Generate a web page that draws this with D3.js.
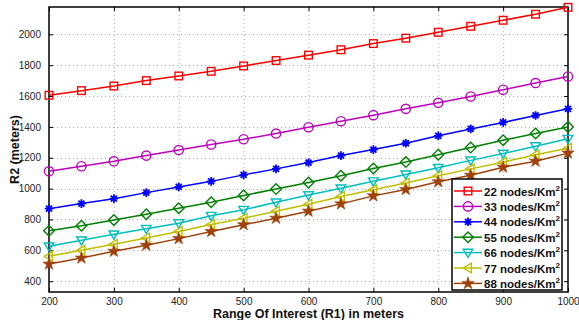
<!DOCTYPE html>
<html>
<head>
<meta charset="utf-8">
<script src="https://cdn.jsdelivr.net/npm/d3@7"></script>
<style>
  body { margin: 0; background: #fff; }
  svg { display: block; font-family: "Liberation Sans", Arial, sans-serif; }
</style>
</head>
<body>
<script>
// x values (Range Of Interest R1, meters)
const r1 = [200, 250, 300, 350, 400, 450, 500, 550, 600, 650, 700, 750, 800, 850, 900, 950, 1000];

// R2 values per node density
const d22 = [1605, 1635, 1665, 1700, 1730, 1760, 1795, 1830, 1865, 1900, 1940, 1975, 2013, 2052, 2091, 2130, 2175];
const d33 = [1112, 1145, 1177, 1214, 1250, 1286, 1320, 1357, 1398, 1437, 1476, 1517, 1556, 1597, 1641, 1684, 1727];
const d44 = [870, 903, 935, 974, 1011, 1047, 1089, 1128, 1169, 1214, 1253, 1294, 1342, 1387, 1429, 1474, 1517];
const d55 = [727, 759, 796, 834, 873, 912, 956, 997, 1039, 1083, 1130, 1172, 1220, 1266, 1313, 1357, 1400];
const d66 = [626, 665, 704, 740, 776, 824, 863, 911, 958, 1002, 1048, 1092, 1135, 1183, 1227, 1275, 1323];
const d77 = [561, 600, 639, 680, 722, 768, 808, 854, 899, 949, 992, 1037, 1084, 1128, 1171, 1220, 1262];
const d88 = [511, 550, 594, 633, 676, 722, 766, 808, 854, 901, 953, 994, 1044, 1087, 1139, 1178, 1230];

const labels = ["22", "33", "44", "55", "66", "77", "88"];
const colors = ["#ff0000", "#bf00bf", "#0000ff", "#008000", "#00bfbf", "#bfbf00", "#a0400a"];
const markers = ["square", "circle", "asterisk", "diamond", "tridown", "trileft", "star"];

const xTicks = [200, 300, 400, 500, 600, 700, 800, 900, 1000];
const yTicks = [400, 600, 800, 1000, 1200, 1400, 1600, 1800, 2000];

const series = [d22, d33, d44, d55, d66, d77, d88].map((vals, i) => ({
  label: labels[i], color: colors[i], marker: markers[i],
  points: r1.map((x, j) => ({x: x, y: vals[j]}))
}));

const width = 579, height = 320;
const margin = {top: 7, right: 11, bottom: 28, left: 49};

const svg = d3.select("body").append("svg")
  .attr("width", width).attr("height", height);

const x = d3.scaleLinear().domain([200, 1000]).range([margin.left, width - margin.right]);
const y = d3.scaleLinear().domain([330, 2177]).range([height - margin.bottom, margin.top]);

const x0 = x.range()[0], x1 = x.range()[1], y0 = y.range()[0], y1 = y.range()[1];

// grid
const grid = svg.append("g").attr("stroke", "#aaa").attr("stroke-width", 1).attr("stroke-dasharray", "1,3");
grid.selectAll(".gx").data(xTicks.slice(1, -1)).join("line")
  .attr("x1", d => x(d) + 0.5).attr("x2", d => x(d) + 0.5)
  .attr("y1", y1).attr("y2", y0);
grid.selectAll(".gy").data(yTicks).join("line")
  .attr("x1", x0).attr("x2", x1)
  .attr("y1", d => Math.round(y(d)) + 0.5).attr("y2", d => Math.round(y(d)) + 0.5);

// axes (ticks inside)
const fmt = d3.format("d");
const bottomAxis = svg.append("g").attr("transform", `translate(0,${y0})`)
  .call(d3.axisBottom(x).tickValues(xTicks).tickFormat(fmt).tickSizeInner(-4).tickSizeOuter(0).tickPadding(6));
const topAxis = svg.append("g").attr("transform", `translate(0,${y1})`)
  .call(d3.axisTop(x).tickValues(xTicks).tickFormat("").tickSizeInner(-4).tickSizeOuter(0));
const leftAxis = svg.append("g").attr("transform", `translate(${x0},0)`)
  .call(d3.axisLeft(y).tickValues(yTicks).tickFormat(fmt).tickSizeInner(-4).tickSizeOuter(0).tickPadding(8));
const rightAxis = svg.append("g").attr("transform", `translate(${x1},0)`)
  .call(d3.axisRight(y).tickValues(yTicks).tickFormat("").tickSizeInner(-4).tickSizeOuter(0));

[bottomAxis, topAxis, leftAxis, rightAxis].forEach(a => {
  a.select(".domain").remove();
  a.selectAll("line").attr("stroke", "#000");
  a.selectAll("text").attr("fill", "#222").style("font-size", "10px")
    .style("font-family", "'Liberation Sans', Arial, sans-serif");
});

// box
svg.append("rect").attr("x", x0).attr("y", y1).attr("width", x1 - x0).attr("height", y0 - y1)
  .attr("fill", "none").attr("stroke", "#000").attr("stroke-width", 1.5);

// marker drawing
function drawMarker(g, type, color, s) {
  const r = s;
  if (type === "square") {
    g.append("rect").attr("x", -r).attr("y", -r).attr("width", 2 * r).attr("height", 2 * r)
      .attr("fill", "none").attr("stroke", color).attr("stroke-width", 1.4);
  } else if (type === "circle") {
    g.append("circle").attr("r", r + 0.8).attr("fill", "none").attr("stroke", color).attr("stroke-width", 1.4);
  } else if (type === "asterisk") {
    const a = r + 0.5;
    g.append("path").attr("d", `M${-a},0L${a},0M0,${-a}L0,${a}M${-a*0.7},${-a*0.7}L${a*0.7},${a*0.7}M${-a*0.7},${a*0.7}L${a*0.7},${-a*0.7}`)
      .attr("stroke", color).attr("stroke-width", 1.8);
  } else if (type === "diamond") {
    const a = r + 1.5;
    g.append("path").attr("d", `M0,${-a}L${a},0L0,${a}L${-a},0Z`)
      .attr("fill", "none").attr("stroke", color).attr("stroke-width", 1.4);
  } else if (type === "tridown") {
    const a = r + 1;
    g.append("path").attr("d", `M${-a},${-a*0.7}L${a},${-a*0.7}L0,${a}Z`)
      .attr("fill", "none").attr("stroke", color).attr("stroke-width", 1.4);
  } else if (type === "trileft") {
    const a = r + 1;
    g.append("path").attr("d", `M${a*0.7},${-a}L${a*0.7},${a}L${-a},0Z`)
      .attr("fill", "none").attr("stroke", color).attr("stroke-width", 1.4);
  } else if (type === "star") {
    g.append("path").attr("d", d3.symbol().type(d3.symbolStar).size(48)())
      .attr("fill", color).attr("stroke", color).attr("stroke-width", 0.6);
  }
}

const line = d3.line().x(d => x(d.x)).y(d => y(d.y));

const plot = svg.append("g");
series.forEach(s => {
  plot.append("path").datum(s.points).attr("d", line)
    .attr("fill", "none").attr("stroke", s.color).attr("stroke-width", 1.5);
  plot.selectAll(null).data(s.points).join("g")
    .attr("transform", d => `translate(${x(d.x)},${y(d.y)})`)
    .each(function() { drawMarker(d3.select(this), s.marker, s.color, 3.8); });
});

// axis labels
svg.append("text").attr("x", (x0 + x1) / 2).attr("y", 318).attr("text-anchor", "middle")
  .style("font-size", "12.5px").style("font-weight", "bold").attr("fill", "#111")
  .text("Range Of Interest (R1) in meters");
svg.append("text").attr("transform", `translate(19,${(y0 + y1) / 2}) rotate(-90)`)
  .attr("text-anchor", "middle")
  .style("font-size", "12.5px").style("font-weight", "bold").attr("fill", "#111")
  .text("R2 (meters)");

// legend
const lg = svg.append("g").attr("transform", "translate(452,179)");
lg.append("rect").attr("width", 110).attr("height", 111)
  .attr("fill", "#fff").attr("stroke", "#000").attr("stroke-width", 1.5);
series.forEach((s, i) => {
  const row = lg.append("g").attr("transform", `translate(0,${12 + i * 15.4})`);
  row.append("line").attr("x1", 2).attr("x2", 30).attr("y1", 0).attr("y2", 0)
    .attr("stroke", s.color).attr("stroke-width", 1.5);
  drawMarker(row.append("g").attr("transform", "translate(16,0)"), s.marker, s.color, 3.8);
  const t = row.append("text").attr("x", 32).attr("y", 4.5)
    .style("font-size", "11.5px").style("font-weight", "bold").attr("fill", "#111");
  t.append("tspan").text(s.label + " nodes/Km");
  t.append("tspan").attr("dy", -5).style("font-size", "8px").text("2");
});
</script>
</body>
</html>
